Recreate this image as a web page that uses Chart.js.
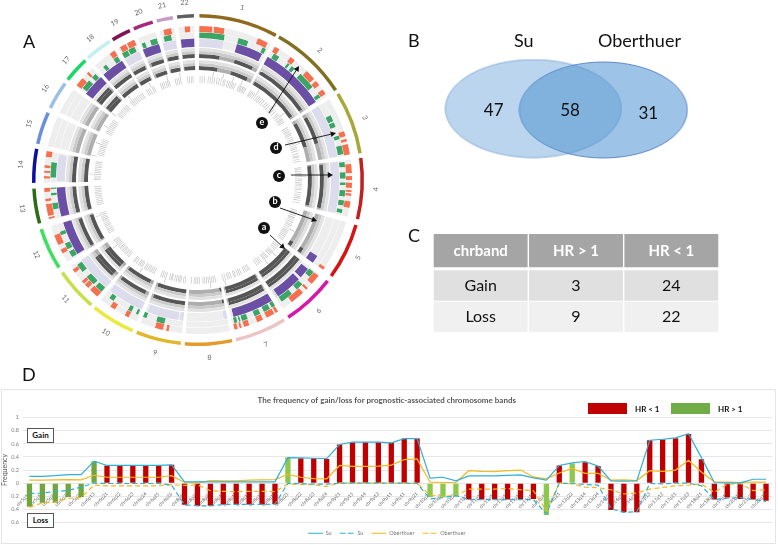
<!DOCTYPE html>
<html>
<head>
<meta charset="utf-8">
<title>Gain and loss of chromosome bands</title>
<script src="https://cdn.jsdelivr.net/npm/chart.js@4"></script>
<style>
  html, body { margin: 0; padding: 0; background: #fff; }
  #page { position: relative; width: 778px; height: 545px; overflow: hidden; font-family: Lato, sans-serif; color: #111; }
  #page canvas { position: absolute; }
  .txt { position: absolute; white-space: nowrap; line-height: 1; }
  .letter { font-size: 18px; }
  .venn-name { font-size: 18px; }
  #frame { position: absolute; left: 1px; top: 389px; width: 775px; height: 155px; border: 1px solid #e4e4e4; box-sizing: border-box; }
  .tag { position: absolute; left: 27px; width: 27px; height: 15px; border: 1px solid #555; background: #fff; box-sizing: border-box;
         font-size: 8px; font-weight: 700; text-align: center; line-height: 13px; }
  .swatch { position: absolute; top: 403px; width: 39px; height: 11px; }
  .hr-key { font-size: 8px; font-weight: 700; top: 405px; }
</style>
</head>
<body>
<div id="page">
  <div id="frame"></div>
  <canvas id="circos" width="360" height="360" style="left:18px;top:0"></canvas>
  <canvas id="venn" width="300" height="140" style="left:420px;top:40px"></canvas>
  <canvas id="table" width="286" height="98" style="left:433px;top:234px"></canvas>
  <canvas id="freq" width="778" height="160" style="left:0;top:385px"></canvas>

  <div class="txt letter" style="left:23px;top:32px">A</div>
  <div class="txt letter" style="left:408px;top:31px">B</div>
  <div class="txt letter" style="left:408px;top:226px">C</div>
  <div class="txt letter" style="left:22px;top:365px">D</div>
  <div class="txt venn-name" style="left:514px;top:31px">Su</div>
  <div class="txt venn-name" style="left:598px;top:31px">Oberthuer</div>

  <div class="tag" style="top:428px">Gain</div>
  <div class="tag" style="top:513px">Loss</div>
  <div class="swatch" style="left:588px;background:#c00000"></div>
  <div class="txt hr-key" style="left:635px">HR &lt; 1</div>
  <div class="swatch" style="left:671px;background:#70ad47"></div>
  <div class="txt hr-key" style="left:718px">HR &gt; 1</div>
</div>

<script>
Chart.defaults.font.family = 'Lato, sans-serif'
Chart.defaults.animation = false
Chart.defaults.responsive = false

// ---- panel A: chromosome sectors, degrees clockwise from the top
const chrNames = ['1','2','3','4','5','6','7','8','9','10','11','12','13','14','15','16','17','18','19','20','21','22']
const chrStart = [0.5,29.5,58.4,82.3,105.9,127.9,148.4,168,186,203.4,220.5,237.8,254.7,269,282.7,296,307.6,318,328.7,337,345.5,352.7]
const chrEnd = [28.3,56.9,80.6,103.8,125.8,146.7,166.6,184.6,201.9,219,235.7,252.6,267,280.9,294.2,306,316.7,327.5,335.5,344,351.2,358.6]
const chrColors = ['#8f6a1e','#7f7120','#a6a83a','#c41f1f','#d61414','#d916a8','#ecc4c4','#e59a2c','#e3b72c','#eaea3a','#c5e04a','#3fe060','#2f6a14','#0a10a0','#6a8fdc','#9cc0e4','#19d966','#c4f0f0','#7f1450','#a8287c','#c49cc4','#5f5f5f']

const redMarks = [[0.5,5.5],[6,10],[23,27],[30,32],[37,39],[45,49],[50,52],[54,56],[71.5,73.5],[74.5,75.5],[76.5,80.5],
  [84,87.5],[88.5,90],[91,93],[93.8,94.6],[95,96],[98,100.5],[124.5,125.7],[128.5,132.5],[134.5,135.5],[137,142.5],
  [148.7,149.8],[150.3,153.5],[155,157.4],[160.5,162.6],[163.5,164.3],[165,166.3],[191,192],[193.2,196.3],[206.8,208.5],[212.7,214.8],
  [220.8,224.5],[225.5,227.3],[227.7,229],[233,234.5],[241.5,243.2],[245,249],[255.3,256],[256.5,261],[262,263],[265.5,267],
  [270.6,271.5],[272.7,273.5],[274.6,275.6],[278.7,281],[308,311.5],[313.7,314.7],[325,327.2],[329.5,332],[332.5,335.5],[347,350],[355,357]]
const greenMarks = [[0.5,10.5],[16,20],[26,27.5],[31,33.5],[37.5,38.5],[39.5,41],[44,51],[54.5,56],[64,66.5],[67,69],[72.5,74],[76.5,80],
  [83,85],[87,89.5],[91,92],[94,96.5],[98,100],[101.5,103],[128.5,131],[135,138],[140.5,145.5],
  [148.5,150],[150.8,153.5],[155,157.5],[160.3,162.7],[163.2,163.9],[164.5,165.8],[193.2,196.5],[200.5,202],[204,205],[206.8,208.4],[215,217],
  [220.8,224],[225,229],[231.5,235],[238.5,241],[242,244.5],[248,249.5],[258.5,261],[264,265],[266.5,267],[271,277],
  [308.5,312.5],[314,316],[320,321.5],[325,327],[329,331.5],[331.8,334.5],[337.5,339],[341,343.8],[346.5,349.5]]
const purpleMarks = [[16,27],[29.5,56.5],[122.5,125.8],[129,133.5],[134.5,145.5],[148.5,165.5],[238.5,252.5],[255,267],[307.6,316.7],[318,327.5],[337,344],[353,358.5]]
const lavenderMarks = [[0.5,10.5],[58.5,80.5],[82.5,103.5],[145.5,146.5],[168,169.5],[186,187.5],[188,201],[203.5,218.5],[220.5,235.5],[269.5,280.5],[328.7,335.5],[345.5,351]]
const darkMarks = [[0.5,10],[17,26],[30,56],[60,73],[83,103],[123,125.5],[128,146.5],[149,166],[168,169],[186,201],[205,218],[222,233],[238.5,252],[255,267],[269,281],[308,316],[318,327.5],[329,335],[338,344],[346,351],[353,358.5]]
const thickMarks = [[128,146.5],[149,166],[222,233],[308,316]]
const tickMarks = [1,2.2,3.4,5.6,6.8,8,9.2,10.6,11.8,13,14.4,15.2,16.6,17.6,18.6,19.4,20.2,21.2,23.4,24.2,25,25.8,26.6,27.4,
  30.4,31.2,32,33,34.2,35.4,36.4,37.2,38.4,39.6,41.2,42.4,43.6,45,46,47,48.4,50,51,52.2,53.2,54,55,55.8,
  59.4,60.4,61.4,62.2,63.2,64,65.2,66.4,67.4,69.2,70.2,71.4,72.2,73.4,75,76.2,77,78.2,79.4,
  83,84,85,86.2,87,88,89.2,90,91.4,92.2,93.2,94.4,95.2,96.8,98,99,100,101.2,102.6,
  107,108,109,110,111.2,112,113,114,115.2,116,117,118.2,119.4,120.2,121,122,123,124,125,
  129,130,131,132,133.4,134.2,135,136,137.6,138.4,139.4,140.2,142,143,144,145.2,
  150,151,152,153,155,156,157,158.4,159.2,161,162,163,164.4,165.6,
  170,171,172,173,174,175,176,177,179,180,181,182,183.6,
  187,188,189.4,190.2,191,192,193,194.4,195,196,198,199,200,201,
  205,206,207,208,209,210,211,212.6,213.4,214.2,215,216.4,217.4,218.2,
  222,223,224,225,226,227,228.2,229,230,231,232,233,234,
  239,240,241,242,243.2,244,245,246,247,248,249,250,251,
  256,257,258,259,260,261,262,263,264,265,266,
  270,271,272,273,274,275,276,277,278,279,280,
  284,285,286,287,288,289,290,291,292,293,
  297,298,299,300,301,302,303,304,305,
  309,310,311,312,313,314,315,316,
  319,320,321,322,323,324,325,326,327,
  330,331,332,333.4,334.4,338.4,339.4,340.4,341.6,342.6,343.4,
  347,348,349,350,354,355,356,357]
const longTicks = [8,13.5,19,24,34,46,52,70,88,118,134,140,165,173,198,212,231,250,273,283,290,300,307.8,320,333,343,350]

// callouts on the circle, page pixels
const calloutLetters = ['a','b','c','d','e']
const calloutCircle = [[264,228],[275,202],[279,176],[276,148],[262,123]]
const calloutFrom = [[270,235],[280,208],[291,175],[285,145],[269,113]]
const calloutTo = [[285,249],[317,221],[333,175],[336,133],[299,66]]

// ---- panel B
const vennNames = ['Su','Oberthuer']
const vennCounts = [47, 58, 31]

// ---- panel C
const tableHead = ['chrband','HR > 1','HR < 1']
const tableGain = ['Gain','3','24']
const tableLoss = ['Loss','9','22']

// ---- panel D
const bandLabels = ['chr5q14','chr5q15','chr5q21','chr5q22','chr5q23','chr6p13','chr6q21','chr6q22','chr6q23','chr6q24','chr6q25','chr6q26',
  'chr8p23','chr8p22','chr8p21','chr8p12','chr8p11','chr8q11','chr8q12','chr8q13','chr8q21','chr8q22','chr8q23','chr8q24',
  'chr9p21','chr9p15','chr9p14','chr9p13','chr9p11','chr9q11','chr9q21','chr10q23','chr10q24','chr10q26',
  'chr11p15','chr11p14','chr11p13','chr11p12','chr11p11','chr11q14','chr12p13','chr12q21','chr12q22',
  'chr13q14','chr13q34','chr14q24','chr14q31','chr14q32','chr17p13','chr17q12','chr17q21','chr17q23','chr18q21',
  'chr18q22','chr19p13','chr20p12','chr21q21','chr22q13']
const barValues = [-.36,-.30,-.30,-.21,-.21,.33,.27,.27,.27,.27,.27,.28,
  -.33,-.345,-.345,-.325,-.325,-.325,-.325,-.32,.39,.38,.38,.37,
  .59,.625,.625,.625,.615,.68,.68,-.21,-.21,-.20,
  -.25,-.25,-.25,-.25,-.25,-.24,-.485,.27,.30,.32,.26,
  -.41,-.445,-.445,.655,.665,.685,.75,.365,-.25,-.22,-.24,-.25,-.27]
const hrClass = ['H','H','H','H','H','H','L','L','L','L','L','L','L','L','L','L','L','L','L','L','h','L','L','L',
  'L','L','L','L','L','L','L','h','h','h','L','L','L','L','L','L','h','L','h','L','L',
  'L','L','L','L','L','L','L','L','L','L','L','L','L']
const suGain = [.105,.105,.115,.13,.13,.335,.27,.27,.27,.27,.27,.28,.02,.02,.02,.02,.02,.02,.02,.02,.39,.385,.38,.375,
  .59,.625,.625,.625,.615,.68,.68,.076,.09,.035,.11,.11,.11,.12,.125,.08,.045,.27,.31,.33,.26,
  .035,.03,.035,.655,.67,.69,.755,.39,.01,.005,.005,.06,.06]
const suLoss = [-.16,-.15,-.13,-.11,-.06,0,-.005,-.005,-.005,-.005,-.005,-.03,-.33,-.345,-.345,-.325,-.325,-.325,-.325,-.32,0,-.01,-.015,-.015,
  0,0,0,0,0,0,-.005,-.24,-.22,-.19,-.25,-.25,-.25,-.25,-.25,-.25,-.47,0,-.005,-.02,-.03,
  -.39,-.445,-.435,-.005,-.01,0,0,-.04,-.25,-.23,-.22,-.25,-.28]
const obGain = [.045,.045,.05,.055,.05,.12,.09,.09,.09,.09,.09,.115,.01,.005,.04,.035,.035,.045,.05,.055,.135,.09,.07,.065,
  .27,.255,.255,.26,.275,.36,.37,.015,.01,.01,.19,.18,.175,.19,.20,.095,.065,.155,.225,.15,.15,
  .045,.05,.04,.19,.18,.20,.35,.17,.02,.015,.01,.015,.015]
const obLoss = [-.37,-.30,-.29,-.23,-.22,-.03,-.04,-.04,-.04,-.04,-.04,-.025,-.035,-.025,-.115,-.125,-.13,-.125,-.125,-.13,-.015,-.02,-.025,-.05,
  0,0,0,0,0,0,0,-.18,-.20,-.19,-.09,-.09,-.09,-.08,-.10,-.115,-.42,0,-.01,-.06,-.07,
  -.10,-.165,-.15,-.09,-.065,-.04,-.03,-.015,-.14,-.015,-.005,-.115,-.10]
const yTickLabels = ['0.6','0.4','0.2','0','0.2','0.4','0.6','0.8','1']

// one doughnut ring, walking the sectors in order
function ring(groups, bg) {
    const marks = groups.flatMap(g => g.marks.map(m => [m[0], m[1], g.color])).sort((a, b) => a[0] - b[0])
    const data = [], backgroundColor = []
    let pos = 0
    const push = (to, color) => {
        if (to > pos + 0.001) { data.push(to - pos); backgroundColor.push(color); pos = to }
    }
    chrStart.forEach((s, i) => {
        const e = chrEnd[i]
        push(s, 'rgba(0,0,0,0)')
        marks.filter(m => m[0] < e && m[1] > s).forEach(m => {
            push(Math.max(m[0], s), bg)
            push(Math.min(m[1], e), m[2])
        })
        push(e, bg)
    })
    push(360, 'rgba(0,0,0,0)')
    return { data, backgroundColor }
}

function spacer(weight) {
    return { data: [360], backgroundColor: ['rgba(0,0,0,0)'], weight }
}

function band(weight, marks, color, base) {
    return { ...ring([{ marks, color }], base), weight }
}

const chrRing = { data: [], backgroundColor: [], weight: 3.5 }
chrStart.forEach((s, i) => {
    const prev = i ? chrEnd[i - 1] : 0
    chrRing.data.push(s - prev, chrEnd[i] - s)
    chrRing.backgroundColor.push('rgba(0,0,0,0)', chrColors[i])
})
chrRing.data.push(360 - chrEnd[chrEnd.length - 1])
chrRing.backgroundColor.push('rgba(0,0,0,0)')

const tickArcs = a => a.map(t => [t, t + 0.35])
const DARK = '#565656'
const TICK = '#bdbdbd'

const chrLabels = {
    id: 'chrLabels',
    afterDraw(chart) {
        const { ctx } = chart
        const cx = (chart.chartArea.left + chart.chartArea.right) / 2
        const cy = (chart.chartArea.top + chart.chartArea.bottom) / 2
        ctx.save()
        ctx.font = '7px Lato, sans-serif'
        ctx.fillStyle = '#666'
        ctx.textAlign = 'center'
        ctx.textBaseline = 'middle'
        chrNames.forEach((name, i) => {
            const mid = (chrStart[i] + chrEnd[i]) / 2 * Math.PI / 180
            ctx.save()
            ctx.translate(cx + 178 * Math.sin(mid), cy - 178 * Math.cos(mid))
            ctx.rotate(mid > Math.PI / 2 && mid < 3 * Math.PI / 2 ? mid - Math.PI : mid)
            ctx.fillText(name, 0, 0)
            ctx.restore()
        })
        ctx.restore()

        // arrows and lettered circles
        ctx.save()
        ctx.translate(-18, 0)
        calloutLetters.forEach((letter, i) => {
            const [x1, y1] = calloutFrom[i], [x2, y2] = calloutTo[i]
            const a = Math.atan2(y2 - y1, x2 - x1)
            ctx.strokeStyle = ctx.fillStyle = '#111'
            ctx.lineWidth = 0.9
            ctx.beginPath(); ctx.moveTo(x1, y1); ctx.lineTo(x2 - 4 * Math.cos(a), y2 - 4 * Math.sin(a)); ctx.stroke()
            ctx.beginPath(); ctx.moveTo(x2, y2)
            ctx.lineTo(x2 - 6 * Math.cos(a - 0.5), y2 - 6 * Math.sin(a - 0.5))
            ctx.lineTo(x2 - 6 * Math.cos(a + 0.5), y2 - 6 * Math.sin(a + 0.5))
            ctx.fill()
            const [cxp, cyp] = calloutCircle[i]
            ctx.beginPath(); ctx.arc(cxp, cyp, 6, 0, Math.PI * 2); ctx.fill()
            ctx.fillStyle = '#fff'
            ctx.font = 'bold 9px Lato, sans-serif'
            ctx.textAlign = 'center'
            ctx.textBaseline = 'middle'
            ctx.fillText(letter, cxp, cyp - 0.5)
        })
        ctx.restore()
    }
}

new Chart(document.getElementById('circos'), {
    type: 'doughnut',
    data: {
        datasets: [
            chrRing,
            spacer(8.5),
            { ...ring([{ marks: redMarks, color: '#f5704f' }], '#eeeeee'), weight: 6 },
            spacer(0.4),
            { ...ring([{ marks: greenMarks, color: '#3aa564' }], '#eeeeee'), weight: 5.6 },
            spacer(0.5),
            { ...ring([{ marks: purpleMarks, color: '#6a4fa5' }, { marks: lavenderMarks, color: '#dcdcec' }], '#eeeeee'), weight: 8.5 },
            spacer(1),
            band(3, [], DARK, '#e2e2e2'),
            band(3, thickMarks, DARK, '#cbcbcb'),
            band(4, darkMarks, DARK, '#aeaeae'),
            spacer(2),
            band(3, [], DARK, '#e2e2e2'),
            band(3, thickMarks, DARK, '#cbcbcb'),
            band(4, darkMarks, DARK, '#aeaeae'),
            spacer(1),
            band(5, tickArcs(longTicks), TICK, 'rgba(0,0,0,0)'),
            band(7, tickArcs(tickMarks), TICK, 'rgba(0,0,0,0)')
        ]
    },
    options: {
        cutout: 97,
        rotation: 0,
        layout: { padding: 14 },
        borderWidth: 0,
        plugins: { legend: { display: false }, tooltip: { enabled: false } }
    },
    plugins: [chrLabels]
})

// ---- Venn
function ellipseSprite(rx, ry, fill, stroke) {
    const c = document.createElement('canvas')
    c.width = rx * 2 + 2
    c.height = ry * 2 + 2
    const g = c.getContext('2d')
    g.beginPath()
    g.ellipse(rx + 1, ry + 1, rx, ry, 0, 0, Math.PI * 2)
    g.fillStyle = fill
    g.fill()
    g.strokeStyle = stroke
    g.lineWidth = 1
    g.stroke()
    return c
}

const vennText = {
    id: 'vennText',
    afterDraw(chart) {
        const { ctx } = chart
        ctx.save()
        ctx.font = '17px Lato, sans-serif'
        ctx.fillStyle = '#111'
        ctx.textAlign = 'center'
        ctx.textBaseline = 'middle'
        chart.getDatasetMeta(2).data.forEach((p, i) => ctx.fillText(vennCounts[i], p.x, p.y))
        ctx.restore()
    }
}

new Chart(document.getElementById('venn'), {
    type: 'scatter',
    data: {
        datasets: [
            { label: vennNames[0], data: [{ x: 112, y: 68.5 }], pointStyle: ellipseSprite(88, 49, 'rgba(91,155,213,0.42)', 'rgba(91,140,200,0.6)') },
            { label: vennNames[1], data: [{ x: 184.5, y: 70 }], pointStyle: ellipseSprite(84, 48, 'rgba(91,155,213,0.6)', 'rgba(60,110,190,0.75)') },
            { label: 'counts', data: [{ x: 71, y: 71 }, { x: 150, y: 71 }, { x: 231, y: 74 }], pointRadius: 0 }
        ]
    },
    options: {
        layout: { padding: 0 },
        scales: {
            x: { display: false, min: 0, max: 300 },
            y: { display: false, min: 0, max: 140, reverse: true }
        },
        plugins: { legend: { display: false }, tooltip: { enabled: false } }
    },
    plugins: [vennText]
})

// ---- table, one floating bar per cell
const tableText = {
    id: 'tableText',
    afterDraw(chart) {
        const { ctx } = chart
        ctx.save()
        ctx.textAlign = 'center'
        ctx.textBaseline = 'middle'
        ;[tableHead, tableGain, tableLoss].forEach((row, r) => {
            ctx.font = r === 0 ? 'bold 15px Lato, sans-serif' : '16px Lato, sans-serif'
            ctx.fillStyle = r === 0 ? '#fff' : '#111'
            chart.getDatasetMeta(r).data.forEach((bar, c) => ctx.fillText(row[c], bar.x, (bar.y + bar.base) / 2))
        })
        ctx.restore()
    }
}

const rowSpan = (a, b) => tableHead.map(() => [a, b])

new Chart(document.getElementById('table'), {
    type: 'bar',
    data: {
        labels: tableHead,
        datasets: [
            { data: rowSpan(0, 33), backgroundColor: '#a5a5a5' },
            { data: rowSpan(36, 66), backgroundColor: '#e0e0e0' },
            { data: rowSpan(67, 97), backgroundColor: '#f0f0f0' }
        ]
    },
    options: {
        layout: { padding: 0 },
        datasets: { bar: { grouped: false, barPercentage: 0.985, categoryPercentage: 1 } },
        scales: {
            x: { display: false },
            y: { display: false, min: 0, max: 97, reverse: true }
        },
        plugins: { legend: { display: false }, tooltip: { enabled: false } }
    },
    plugins: [tableText]
})

// ---- frequency chart
const barColorOf = { H: '#70a53f', h: '#8cc84b', L: '#c00000' }

new Chart(document.getElementById('freq'), {
    type: 'bar',
    data: {
        labels: bandLabels,
        datasets: [
            { type: 'line', label: 'Su', data: suGain, borderColor: '#2fb0d6', borderWidth: 1.2, pointRadius: 0, tension: 0, order: 1 },
            { type: 'line', label: 'Su', data: suLoss, borderColor: '#2fb0d6', borderDash: [5, 3], borderWidth: 1.2, pointRadius: 0, tension: 0, order: 1 },
            { type: 'line', label: 'Oberthuer', data: obGain, borderColor: '#f4b91f', borderWidth: 1.2, pointRadius: 0, tension: 0, order: 1 },
            { type: 'line', label: 'Oberthuer', data: obLoss, borderColor: '#f4b91f', borderDash: [5, 3], borderWidth: 1.2, pointRadius: 0, tension: 0, order: 1 },
            { label: 'bars', data: barValues, backgroundColor: hrClass.map(c => barColorOf[c]), barPercentage: 0.41, categoryPercentage: 1, order: 2 }
        ]
    },
    options: {
        layout: { padding: { left: 1, right: 5.5, bottom: -1 } },
        scales: {
            x: {
                position: { y: 0 },
                grid: { display: false },
                border: { display: false },
                ticks: { autoSkip: false, minRotation: 45, maxRotation: 45, padding: 0, color: '#666', font: { size: 4.8 } }
            },
            y: {
                min: -0.6,
                max: 1,
                afterFit: s => { s.width = 22 },
                grid: { color: '#e6e6e6', drawTicks: false },
                border: { display: false },
                title: { display: true, text: 'Frequency', color: '#555', font: { size: 7 }, padding: 0 },
                ticks: { stepSize: 0.2, padding: 4, color: '#7f7f7f', font: { size: 5.5 }, callback: (v, i) => yTickLabels[i] }
            }
        },
        plugins: {
            title: {
                display: true,
                text: 'The frequency of gain/loss for prognostic-associated chromosome bands',
                color: '#595959',
                font: { size: 8, weight: 'bold' },
                padding: { top: 11, bottom: 12 }
            },
            legend: {
                position: 'bottom',
                labels: {
                    filter: item => item.text !== 'bars',
                    boxWidth: 15,
                    boxHeight: 0,
                    padding: 8,
                    color: '#777',
                    font: { size: 5.5 }
                }
            },
            tooltip: { enabled: false }
        }
    }
})
</script>
</body>
</html>
